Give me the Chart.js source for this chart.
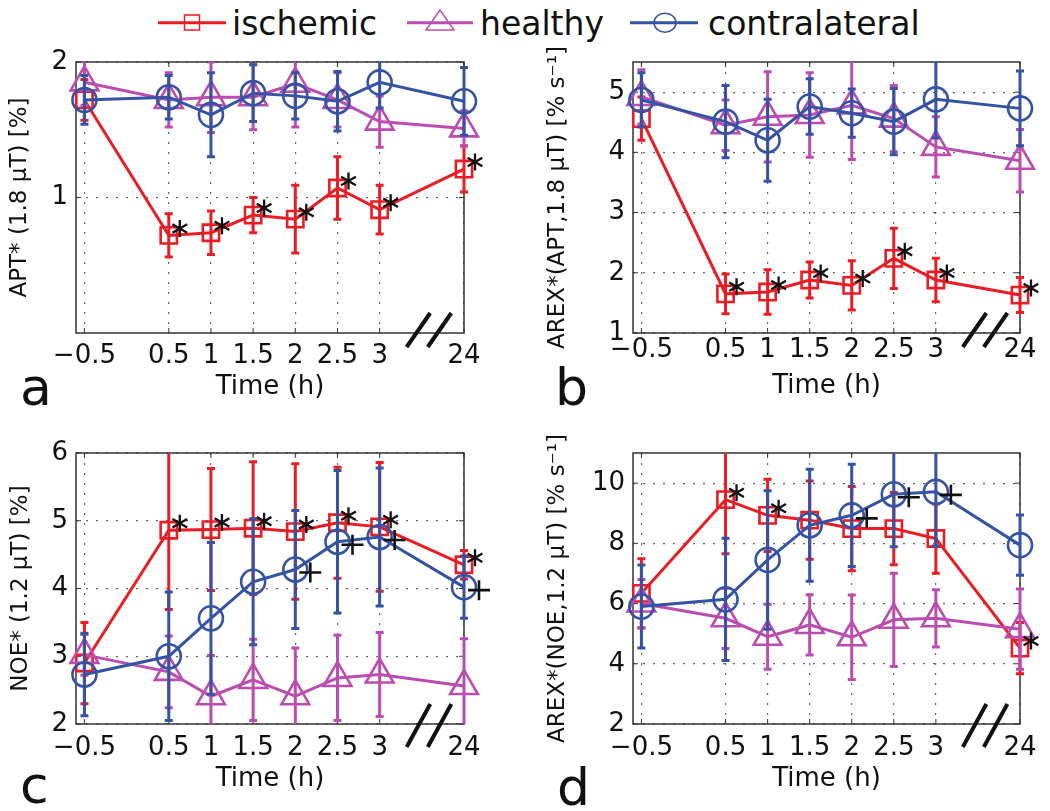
<!DOCTYPE html>
<html>
<head>
<meta charset="utf-8">
<script src="https://cdn.jsdelivr.net/npm/chart.js@4.4.1/dist/chart.umd.min.js"></script>
<style>
  body { margin: 0; background: #fff; width: 1050px; height: 811px; position: relative; overflow: hidden;
         font-family: "DejaVu Sans", sans-serif; color: #111; }
  canvas { position: absolute; }
  .lg { position: absolute; top: 8px; }
  .lgText { position: absolute; top: 4px; font-size: 33px; line-height: 40px; white-space: nowrap; }
  .letter { position: absolute; font-size: 52px; line-height: 52px; }
</style>
</head>
<body>

<!-- legend -->
<svg class="lg" style="left:158px" width="68" height="28">
  <line x1="0" y1="14.7" x2="68" y2="14.7" stroke="#ec1c24" stroke-width="3"/>
  <rect x="26.5" y="7" width="15" height="15" fill="none" stroke="#ec1c24" stroke-width="1.5"/>
</svg>
<div class="lgText" style="left:232px">ischemic</div>
<svg class="lg" style="left:407px" width="66" height="28">
  <line x1="0" y1="14.7" x2="66" y2="14.7" stroke="#bb4db0" stroke-width="3"/>
  <polygon points="33,2 19,22 47,22" fill="none" stroke="#bb4db0" stroke-width="1.5"/>
</svg>
<div class="lgText" style="left:480px">healthy</div>
<svg class="lg" style="left:630px" width="68" height="28">
  <line x1="0" y1="14.7" x2="68" y2="14.7" stroke="#3453a5" stroke-width="3"/>
  <ellipse cx="35" cy="14.7" rx="11" ry="9.5" fill="none" stroke="#3453a5" stroke-width="1.5"/>
</svg>
<div class="lgText" style="left:708px">contralateral</div>

<canvas id="pa" width="525" height="365" style="left:0;top:45px"></canvas>
<canvas id="pb" width="525" height="365" style="left:525px;top:45px"></canvas>
<canvas id="pc" width="525" height="390" style="left:0;top:410px"></canvas>
<canvas id="pd" width="525" height="390" style="left:525px;top:410px"></canvas>

<div class="letter" style="left:20px;top:361px">a</div>
<div class="letter" style="left:555px;top:361px">b</div>
<div class="letter" style="left:20px;top:759px">c</div>
<div class="letter" style="left:557px;top:761px">d</div>

<script>
// -------- DATA --------
const timeHours = [-0.5, 0.5, 1, 1.5, 2, 2.5, 3, 24];
// position on the broken time axis: 24 h sits one unit after 3 h
const axisPos = [-0.5, 0.5, 1, 1.5, 2, 2.5, 3, 4];
const xTickLabels = ["\u22120.5", "0.5", "1", "1.5", "2", "2.5", "3", "24"];

// a: APT* (1.8 uT)
const aYTicks = [1, 2];
const aIsch = [1.72, 0.72, 0.74, 0.87, 0.84, 1.07, 0.91, 1.21];
const aIschErr = [0.15, 0.16, 0.16, 0.13, 0.25, 0.23, 0.18, 0.17];
const aHealthy = [1.85, 1.72, 1.74, 1.74, 1.84, 1.72, 1.56, 1.51];
const aHealthyErr = [0.17, 0.2, 0.26, 0.24, 0.32, 0.2, 0.19, 0.13];
const aContra = [1.72, 1.74, 1.61, 1.77, 1.75, 1.71, 1.85, 1.71];
const aContraErr = [0.18, 0.16, 0.31, 0.21, 0.17, 0.22, 0.19, 0.25];
const aStars = [1, 2, 3, 4, 5, 6, 7];

// b: AREX*(APT, 1.8 uT)
const bYTicks = [1, 2, 3, 4, 5];
const bIsch = [4.56, 1.65, 1.68, 1.88, 1.79, 2.24, 1.88, 1.63];
const bIschErr = [0.36, 0.33, 0.37, 0.3, 0.41, 0.5, 0.36, 0.29];
const bHealthy = [4.92, 4.45, 4.59, 4.62, 4.78, 4.56, 4.09, 3.86];
const bHealthyErr = [0.45, 0.42, 0.75, 0.7, 0.9, 0.55, 0.5, 0.52];
const bContra = [4.87, 4.51, 4.2, 4.76, 4.65, 4.51, 4.88, 4.73];
const bContraErr = [0.45, 0.6, 0.68, 0.46, 0.4, 0.55, 0.64, 0.62];
const bStars = [1, 2, 3, 4, 5, 6, 7];

// c: NOE* (1.2 uT)
const cYTicks = [2, 3, 4, 5, 6];
const cIsch = [2.9, 4.86, 4.87, 4.89, 4.84, 4.97, 4.91, 4.35];
const cIschErr = [0.6, 1.17, 0.9, 0.98, 1.0, 0.82, 0.95, 0.21];
const cHealthy = [3.02, 2.77, 2.41, 2.65, 2.41, 2.68, 2.73, 2.56];
const cHealthyErr = [0.3, 0.53, 0.6, 0.6, 0.71, 0.63, 0.62, 0.7];
const cContra = [2.73, 3.0, 3.56, 4.1, 4.28, 4.69, 4.76, 4.02];
const cContraErr = [0.61, 0.95, 1.12, 0.93, 0.87, 1.05, 1.02, 0.46];
const cStars = [1, 2, 3, 4, 5, 6, 7];
const cCrosses = [4, 5, 6, 7];

// d: AREX*(NOE, 1.2 uT)
const dYTicks = [2, 4, 6, 8, 10];
const dIsch = [6.34, 9.45, 8.93, 8.77, 8.49, 8.49, 8.16, 4.52];
const dIschErr = [1.15, 1.8, 1.2, 1.3, 1.4, 1.2, 1.15, 0.85];
const dHealthy = [6.0, 5.51, 4.9, 5.29, 4.88, 5.46, 5.51, 5.15];
const dHealthyErr = [0.8, 1.0, 1.08, 1.0, 1.4, 1.55, 0.95, 1.33];
const dContra = [5.9, 6.14, 7.45, 8.6, 8.93, 9.63, 9.71, 7.94];
const dContraErr = [1.38, 2.03, 2.3, 1.86, 1.7, 1.74, 1.8, 1.0];
const dStars = [1, 2, 7];
const dCrosses = [4, 5, 6];

// -------- STYLE --------
const RED = "#ec1c24";
const PINK = "#bb4db0";
const BLUE = "#3453a5";
const FONT = "DejaVu Sans";

// -------- PLUGINS --------
// frame + inward tick marks, drawn under the data
const framePlugin = {
    id: "frame",
    beforeDatasetsDraw(chart) {
        const { ctx, chartArea: a, scales } = chart;
        ctx.save();
        ctx.strokeStyle = "#333";
        ctx.lineWidth = 1.5;
        ctx.strokeRect(a.left, a.top, a.right - a.left, a.bottom - a.top);
        ctx.lineWidth = 1;
        ctx.beginPath();
        scales.x.ticks.forEach(t => {
            const px = scales.x.getPixelForValue(t.value);
            ctx.moveTo(px, a.bottom); ctx.lineTo(px, a.bottom - 5);
            ctx.moveTo(px, a.top); ctx.lineTo(px, a.top + 5);
        });
        scales.y.ticks.forEach(t => {
            const py = scales.y.getPixelForValue(t.value);
            ctx.moveTo(a.left, py); ctx.lineTo(a.left + 5, py);
            ctx.moveTo(a.right, py); ctx.lineTo(a.right - 5, py);
        });
        ctx.stroke();
        ctx.restore();
    }
};

// vertical error bars with caps, drawn just before each series
const errorBarPlugin = {
    id: "errorBars",
    beforeDatasetDraw(chart, args) {
        const ds = chart.data.datasets[args.index];
        if (!ds.errors) return;
        const { ctx, chartArea: a } = chart;
        const y = chart.scales.y;
        ctx.save();
        ctx.beginPath();
        ctx.rect(a.left - 20, a.top, a.right - a.left + 40, a.bottom - a.top);
        ctx.clip();
        ctx.strokeStyle = ds.borderColor;
        ctx.lineWidth = 3;
        args.meta.data.forEach((pt, i) => {
            const v = ds.data[i].y;
            const e = ds.errors[i];
            const top = y.getPixelForValue(v + e);
            const bot = y.getPixelForValue(v - e);
            ctx.beginPath();
            ctx.moveTo(pt.x, top); ctx.lineTo(pt.x, bot);
            ctx.moveTo(pt.x - 4, top); ctx.lineTo(pt.x + 4, top);
            ctx.moveTo(pt.x - 4, bot); ctx.lineTo(pt.x + 4, bot);
            ctx.stroke();
        });
        ctx.restore();
    }
};

// significance marks (* and +) next to points, and the // axis break
const marksPlugin = {
    id: "marks",
    afterDatasetsDraw(chart) {
        const { ctx, chartArea: a } = chart;
        ctx.save();
        ctx.strokeStyle = "#111";
        chart.data.datasets.forEach((ds, di) => {
            const pts = chart.getDatasetMeta(di).data;
            (ds.stars || []).forEach(i => {
                const x = pts[i].x + 11, y = pts[i].y - 7;
                ctx.lineWidth = 2.3;
                ctx.beginPath();
                [90, 30, 150].forEach(deg => {
                    const r = deg * Math.PI / 180;
                    ctx.moveTo(x - 8.5 * Math.cos(r), y - 8.5 * Math.sin(r));
                    ctx.lineTo(x + 8.5 * Math.cos(r), y + 8.5 * Math.sin(r));
                });
                ctx.stroke();
            });
            (ds.crosses || []).forEach(i => {
                const x = pts[i].x + 15, y = pts[i].y + 3;
                ctx.lineWidth = 2.6;
                ctx.beginPath();
                ctx.moveTo(x - 11, y); ctx.lineTo(x + 11, y);
                ctx.moveTo(x, y - 10); ctx.lineTo(x, y + 10);
                ctx.stroke();
            });
        });

        // axis break between 3 h and 24 h
        const xs = chart.scales.x;
        const down = chart.options.breakDown;
        ctx.lineWidth = 4;
        ctx.beginPath();
        [[3.32, 3.6], [3.57, 3.85]].forEach(([x0, x1]) => {
            ctx.moveTo(xs.getPixelForValue(x0), a.bottom + down);
            ctx.lineTo(xs.getPixelForValue(x1), a.bottom - 20);
        });
        ctx.stroke();
        ctx.restore();
    }
};

// -------- PANELS --------
function series(values, errors, color, style, radius, order) {
    return {
        data: values.map((v, i) => ({ x: axisPos[i], y: v })),
        errors: errors,
        borderColor: color,
        borderWidth: 3,
        pointStyle: style,
        pointRadius: radius,
        pointBorderWidth: 2.6,
        pointBorderColor: color,
        pointBackgroundColor: "rgba(0,0,0,0)",
        tension: 0,
        clip: false,
        order: order
    };
}

function makePanel(p) {
    const contra = series(p.contra, p.contraErr, BLUE, "circle", 12, 1);
    const healthy = series(p.healthy, p.healthyErr, PINK, "triangle", 16, 2);
    const isch = series(p.isch, p.ischErr, RED, "rect", 11.5, 3);
    isch.stars = p.stars;
    contra.crosses = p.crosses;

    const gridStyle = { color: "#666", lineWidth: 1.2, drawTicks: false };
    const borderStyle = { display: false, dash: [2, 8] };

    return new Chart(document.getElementById(p.id), {
        type: "line",
        data: { datasets: [isch, healthy, contra] },
        options: {
            responsive: false,
            devicePixelRatio: 1,
            animation: false,
            breakDown: p.breakDown,
            layout: { padding: { left: 0, top: p.top, right: p.right, bottom: 0 }, autoPadding: false },
            plugins: { legend: { display: false }, tooltip: { enabled: false } },
            scales: {
                x: {
                    type: "linear",
                    min: -0.6,
                    max: 4,
                    afterBuildTicks: s => { s.ticks = axisPos.map(v => ({ value: v })); },
                    afterFit: s => { s.height = p.xH; s.paddingLeft = 0; s.paddingRight = 0; },
                    ticks: {
                        autoSkip: false,
                        maxRotation: 0,
                        padding: p.xPad,
                        color: "#111",
                        font: { family: FONT, size: 26 },
                        callback: (v, i) => xTickLabels[i]
                    },
                    grid: gridStyle,
                    border: borderStyle,
                    title: {
                        display: true,
                        text: "Time (h)",
                        color: "#111",
                        font: { family: FONT, size: 26 },
                        padding: { top: 0, bottom: p.titlePad }
                    }
                },
                y: {
                    type: "linear",
                    min: p.yMin,
                    max: p.yMax,
                    afterBuildTicks: s => { s.ticks = p.yTicks.map(v => ({ value: v })); },
                    afterFit: s => { s.width = p.yW; s.paddingTop = 0; s.paddingBottom = 0; },
                    ticks: {
                        padding: 8,
                        color: "#111",
                        font: { family: FONT, size: 26 },
                        callback: v => String(v)
                    },
                    grid: gridStyle,
                    border: borderStyle,
                    title: {
                        display: true,
                        text: p.yTitle,
                        color: "#111",
                        font: { family: FONT, size: 23 },
                        padding: { top: p.yTitlePad, bottom: 0 }
                    }
                }
            }
        },
        plugins: [framePlugin, errorBarPlugin, marksPlugin]
    });
}

makePanel({
    id: "pa", yMin: 0, yMax: 2, yTicks: aYTicks, yTitle: "APT* (1.8 \u03bcT) [%]",
    isch: aIsch, ischErr: aIschErr, healthy: aHealthy, healthyErr: aHealthyErr,
    contra: aContra, contraErr: aContraErr, stars: aStars, crosses: [],
    top: 17, right: 61, yW: 76, xH: 77, xPad: 8, titlePad: 7, yTitlePad: 6, breakDown: 14
});
makePanel({
    id: "pb", yMin: 1, yMax: 5.5, yTicks: bYTicks, yTitle: "AREX*(APT,1.8 \u03bcT) [% s\u207b\u00b9]",
    isch: bIsch, ischErr: bIschErr, healthy: bHealthy, healthyErr: bHealthyErr,
    contra: bContra, contraErr: bContraErr, stars: bStars, crosses: [],
    top: 17, right: 30, yW: 108, xH: 77, xPad: 2, titlePad: 8, yTitlePad: 19, breakDown: 14
});
makePanel({
    id: "pc", yMin: 2, yMax: 6, yTicks: cYTicks, yTitle: "NOE* (1.2 \u03bcT) [%]",
    isch: cIsch, ischErr: cIschErr, healthy: cHealthy, healthyErr: cHealthyErr,
    contra: cContra, contraErr: cContraErr, stars: cStars, crosses: cCrosses,
    top: 43, right: 61, yW: 76, xH: 76, xPad: 9, titlePad: 5, yTitlePad: 7, breakDown: 23
});
makePanel({
    id: "pd", yMin: 2, yMax: 11, yTicks: dYTicks, yTitle: "AREX*(NOE,1.2 \u03bcT) [% s\u207b\u00b9]",
    isch: dIsch, ischErr: dIschErr, healthy: dHealthy, healthyErr: dHealthyErr,
    contra: dContra, contraErr: dContraErr, stars: dStars, crosses: dCrosses,
    top: 43, right: 30, yW: 108, xH: 76, xPad: 9, titlePad: 5, yTitlePad: 19, breakDown: 23
});
</script>
</body>
</html>
